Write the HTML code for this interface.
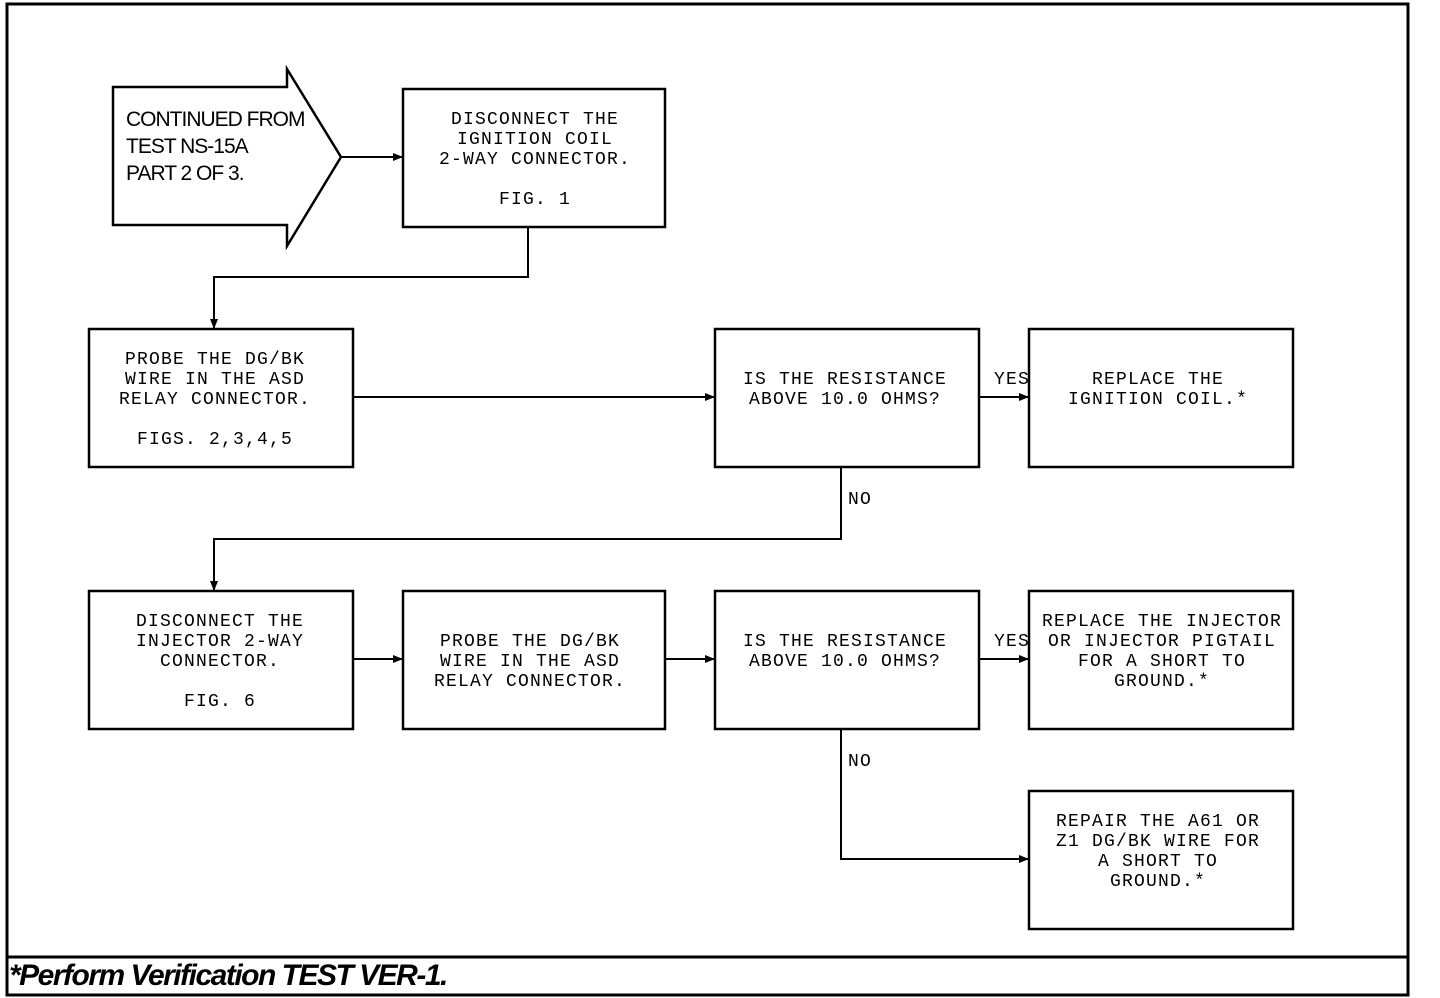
<!DOCTYPE html>
<html><head><meta charset="utf-8"><style>
html,body{margin:0;padding:0;background:#fff;}
svg{display:block;}
text{font-family:"Liberation Mono",monospace;font-size:18px;letter-spacing:1.2px;fill:#000;text-anchor:middle;}
.s{font-family:"Liberation Sans",sans-serif;letter-spacing:-1px;text-anchor:start;font-size:21px;}
</style></head><body>
<svg width="1440" height="998" viewBox="0 0 1440 998" xmlns="http://www.w3.org/2000/svg">
<defs><marker id="a" markerWidth="10" markerHeight="8" refX="9" refY="4" orient="auto" markerUnits="userSpaceOnUse"><path d="M0,0 L10,4 L0,8 z" fill="#000"/></marker></defs>
<g fill="none" stroke="#000" stroke-width="2.5">
<rect x="7" y="4" width="1401" height="991" stroke-width="3"/>
<line x1="7" y1="957" x2="1408" y2="957" stroke-width="3"/>
<path d="M113,87 L287,87 L287,69 L341,157 L287,246 L287,225 L113,225 Z"/>
<rect x="403" y="89" width="262" height="138"/>
<rect x="89" y="329" width="264" height="138"/>
<rect x="715" y="329" width="264" height="138"/>
<rect x="1029" y="329" width="264" height="138"/>
<rect x="89" y="591" width="264" height="138"/>
<rect x="403" y="591" width="262" height="138"/>
<rect x="715" y="591" width="264" height="138"/>
<rect x="1029" y="591" width="264" height="138"/>
<rect x="1029" y="791" width="264" height="138"/>
</g>
<g fill="none" stroke="#000" stroke-width="2">
<line x1="341" y1="157" x2="402" y2="157" marker-end="url(#a)"/>
<polyline points="528,227 528,277 214,277 214,328" marker-end="url(#a)"/>
<line x1="353" y1="397" x2="714" y2="397" marker-end="url(#a)"/>
<line x1="979" y1="397" x2="1028" y2="397" marker-end="url(#a)"/>
<polyline points="841,467 841,539 214,539 214,590" marker-end="url(#a)"/>
<line x1="353" y1="659" x2="402" y2="659" marker-end="url(#a)"/>
<line x1="665" y1="659" x2="714" y2="659" marker-end="url(#a)"/>
<line x1="979" y1="659" x2="1028" y2="659" marker-end="url(#a)"/>
<polyline points="841,729 841,859 1028,859" marker-end="url(#a)"/>
</g>
<text class="s" x="126" y="126">CONTINUED FROM</text>
<text class="s" x="126" y="153">TEST NS-15A</text>
<text class="s" x="126" y="180">PART 2 OF 3.</text>
<text x="535" y="124">DISCONNECT THE</text>
<text x="535" y="144">IGNITION COIL</text>
<text x="535" y="164">2-WAY CONNECTOR.</text>
<text x="535" y="204">FIG. 1</text>
<text x="215" y="364">PROBE THE DG/BK</text>
<text x="215" y="384">WIRE IN THE ASD</text>
<text x="215" y="404">RELAY CONNECTOR.</text>
<text x="215" y="444">FIGS. 2,3,4,5</text>
<text x="845" y="384">IS THE RESISTANCE</text>
<text x="845" y="404">ABOVE 10.0 OHMS?</text>
<text x="1012" y="384">YES</text>
<text x="1158" y="384">REPLACE THE</text>
<text x="1158" y="404">IGNITION COIL.*</text>
<text x="860" y="504">NO</text>
<text x="220" y="626">DISCONNECT THE</text>
<text x="220" y="646">INJECTOR 2-WAY</text>
<text x="220" y="666">CONNECTOR.</text>
<text x="220" y="706">FIG. 6</text>
<text x="530" y="646">PROBE THE DG/BK</text>
<text x="530" y="666">WIRE IN THE ASD</text>
<text x="530" y="686">RELAY CONNECTOR.</text>
<text x="845" y="646">IS THE RESISTANCE</text>
<text x="845" y="666">ABOVE 10.0 OHMS?</text>
<text x="1012" y="646">YES</text>
<text x="1162" y="626">REPLACE THE INJECTOR</text>
<text x="1162" y="646">OR INJECTOR PIGTAIL</text>
<text x="1162" y="666">FOR A SHORT TO</text>
<text x="1162" y="686">GROUND.*</text>
<text x="860" y="766">NO</text>
<text x="1158" y="826">REPAIR THE A61 OR</text>
<text x="1158" y="846">Z1 DG/BK WIRE FOR</text>
<text x="1158" y="866">A SHORT TO</text>
<text x="1158" y="886">GROUND.*</text>
<text class="s" x="9" y="985" style="font-weight:bold;font-style:italic;font-size:30px;letter-spacing:-1.5px">*Perform Verification TEST VER-1.</text>
</svg>
</body></html>
